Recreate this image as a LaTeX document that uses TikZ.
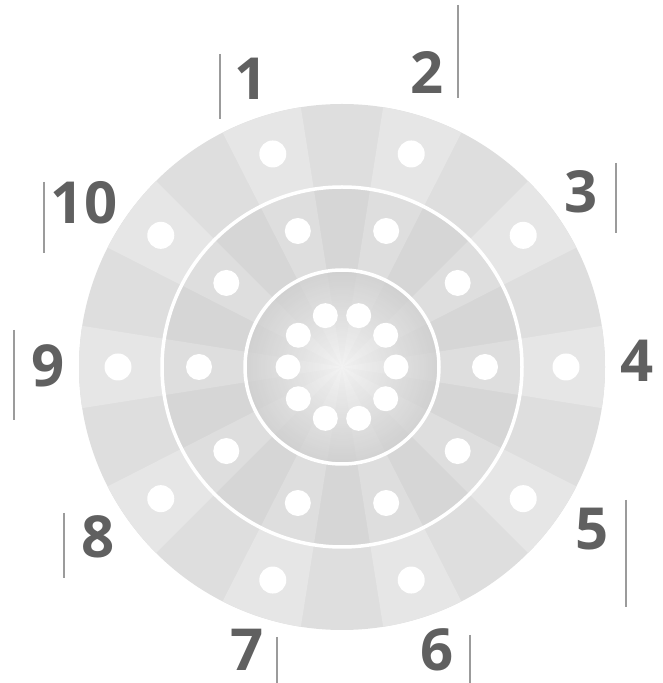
\documentclass[tikz,border=0pt]{standalone}
\usepackage{fontspec}
\setsansfont{Open Sans}
\usepackage{xcolor}
\usepackage{tikz}

\definecolor{numgray}{RGB}{96,96,96}
\definecolor{tickgray}{RGB}{155,155,155}
\definecolor{outA}{RGB}{230,230,230}
\definecolor{outB}{RGB}{222,222,222}
\definecolor{midA}{RGB}{222,222,222}
\definecolor{midB}{RGB}{214,214,214}
\definecolor{innA}{RGB}{216,216,216}
\definecolor{innB}{RGB}{208,208,208}

\tikzset{
    num/.style={inner sep=0pt, text=numgray, font=\sffamily\bfseries\fontsize{58}{58}\selectfont},
    tick/.style={draw=tickgray, line width=1.5pt},
    ringline/.style={draw=white, line width=3.5pt},
    hole/.style={fill=white}
}

\begin{document}
\begin{tikzpicture}[x=1pt, y=1pt]
        \useasboundingbox (0, 0) rectangle (663, 683);
        \coordinate (c) at (342, 316);

        % disc, ring by ring
        \foreach \rad/\ca/\cb in {263/outA/outB, 180/midA/midB, 97/innA/innB} {
            \fill[\cb] (c) circle[radius=\rad];
            \foreach \a in {0, 36, ..., 324}
                \fill[\ca] (c) -- ++(\a-9:\rad) arc[start angle=\a-9, end angle=\a+9, radius=\rad] -- cycle;
        }
        \shade[inner color=white, outer color=innB, opacity=0.7] (c) circle[radius=97];

        \draw[ringline] (c) circle[radius=180];
        \draw[ringline] (c) circle[radius=97];

        % holes
        \foreach \a in {0, 36, ..., 324} {
            \fill[hole] (c) ++(\a:224) circle[radius=13.5];
            \fill[hole] (c) ++(\a:143) circle[radius=13];
            \fill[hole] (c) ++(\a:54) circle[radius=12.5];
        }

        % numbers
        \node[num] (n1) at (251, 604) {1};
        \node[num] (n2) at (427, 610) {2};
        \node[num] (n3) at (581, 491) {3};
        \node[num] (n4) at (637, 322) {4};
        \node[num] (n5) at (592, 154) {5};
        \node[num] (n6) at (437, 33) {6};
        \node[num] (n7) at (247, 33) {7};
        \node[num] (n8) at (98, 146) {8};
        \node[num] (n9) at (48, 317) {9};
        \node[num] (n10) at (84, 480) {10};

        \draw[tick] (220, 629) -- (220, 564);
        \draw[tick] (458, 678) -- (458, 585);
        \draw[tick] (616, 520) -- (616, 450);
        \draw[tick] (626, 183) -- (626, 76);
        \draw[tick] (470, 48) -- (470, 0);
        \draw[tick] (277, 46) -- (277, 0);
        \draw[tick] (64, 170) -- (64, 105);
        \draw[tick] (14, 353) -- (14, 263);
        \draw[tick] (44, 501) -- (44, 430);

    \end{tikzpicture}
\end{document}
